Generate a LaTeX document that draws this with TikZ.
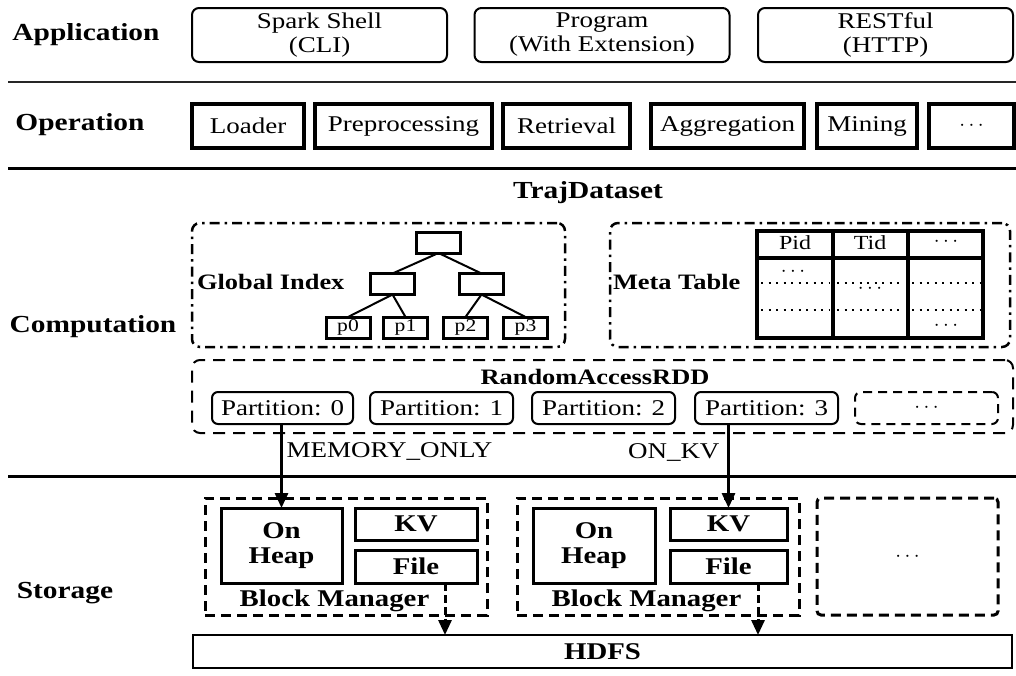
\documentclass[tikz,border=0pt]{standalone}
\usepackage{fontspec}
\setmainfont{Liberation Serif}[FakeStretch=1.2]
\usetikzlibrary{arrows.meta}
% text sizes
\newcommand\txtn{\fontsize{22.5}{24}\selectfont}
\newcommand\txtlayer{\fontsize{24.5}{26}\selectfont\bfseries}
\newcommand\txtbold{\fontsize{22}{24}\selectfont\bfseries}
\newcommand\txtstore{\fontsize{24}{25}\selectfont\bfseries}
\newcommand\txtcell{\fontsize{20}{22}\selectfont}
\newcommand\txtleaf{\fontsize{18}{20}\selectfont}
\newcommand\dotsym{$\cdots$}
\begin{document}
\begin{tikzpicture}[x=1pt,y=-1pt,
  every node/.style={inner sep=0pt, outer sep=0pt},
  layer/.style={font=\txtlayer},
  sepline/.style={line width=3pt},
  appbox/.style={draw, rounded corners=7pt, line width=2pt, minimum width=255pt,
    minimum height=54pt, align=center, font=\txtn},
  opbox/.style={draw, line width=3.5pt, minimum height=44pt, font=\txtn},
  dashdotbox/.style={draw, rounded corners=8pt, line width=2.5pt,
    dash pattern=on 10pt off 5pt on 2.5pt off 5pt, minimum width=#1, minimum height=124pt},
  treebox/.style={draw, line width=3pt, minimum width=44pt, minimum height=21pt, font=\txtleaf},
  treeedge/.style={line width=2pt},
  rddbox/.style={draw, rounded corners=8pt, line width=2pt, dash pattern=on 12pt off 8pt},
  partbox/.style={draw, rounded corners=6pt, line width=2pt, minimum height=32pt,
    minimum width=143pt, font=\txtn},
  bmbox/.style={draw, line width=3pt, dash pattern=on 10pt off 6pt,
    minimum width=282pt, minimum height=117pt},
  storebox/.style={draw, line width=3pt, font=\txtstore, align=center},
  flow/.style={line width=3pt, -{Triangle[length=15pt,width=13pt]}},
  dashflow/.style={line width=3pt, dash pattern=on 8pt off 4pt, -{Triangle[length=15pt,width=13pt]}},
  cellrule/.style={line width=1.5pt, dash pattern=on 2pt off 5.5pt}
]
\path[use as bounding box] (0,0) rectangle (1016,675);

% layer separators
\draw[line width=2pt, black!85] (8,82) -- (1016,82);
\draw[sepline] (8,168) -- (1016,168);
\draw[sepline] (8,476) -- (1016,476);

% layer names
\node[layer] (lApp) at (86,35) {Application};
\node[layer] (lOp) at (80,125) {Operation};
\node[layer] (lComp) at (93,327) {Computation};
\node[layer] (lSto) at (65,593) {Storage};

% application layer
\node[appbox] (spark) at (319.5,35) {Spark Shell\\(CLI)};
\node[appbox] (prog) at (602,35) {Program\\(With Extension)};
\node[appbox] (rest) at (885.5,35) {RESTful\\(HTTP)};

% operation layer
\node[opbox, minimum width=112pt] (load) at (248,126) {Loader};
\node[opbox, minimum width=177pt] (prep) at (403.5,126) {Preprocessing};
\node[opbox, minimum width=127pt] (retr) at (566.5,126) {Retrieval};
\node[opbox, minimum width=153pt] (aggr) at (727.5,126) {Aggregation};
\node[opbox, minimum width=100pt] (mine) at (867,126) {Mining};
\node[opbox, minimum width=85pt] (opmore) at (971.5,126) {\dotsym};

% computation layer
\node[font=\txtlayer] (traj) at (588,193) {TrajDataset};

\node[dashdotbox=373pt] (gi) at (378.5,285) {};
\node[font=\txtbold, anchor=west] (giLabel) at (197,282) {Global Index};
\node[treebox] (root) at (438.5,242.5) {};
\node[treebox] (midL) at (392.5,284) {};
\node[treebox] (midR) at (481.5,284) {};
\node[treebox] (p0) at (348,327.5) {p0};
\node[treebox] (p1) at (405.5,327.5) {p1};
\node[treebox] (p2) at (465.5,327.5) {p2};
\node[treebox] (p3) at (525.5,327.5) {p3};
\draw[treeedge] (root.south) -- (midL.north);
\draw[treeedge] (root.south) -- (midR.north);
\draw[treeedge] (midL.south) -- (p0.north);
\draw[treeedge] (midL.south) -- (p1.north);
\draw[treeedge] (midR.south) -- (p2.north);
\draw[treeedge] (midR.south) -- (p3.north);

\node[dashdotbox=400pt] (meta) at (810,285) {};
\node[font=\txtbold, anchor=west] (metaLabel) at (613,282) {Meta Table};
% meta table grid
\draw[line width=4pt] (757,231) rectangle (983,338);
\draw[line width=3.5pt] (757,258) -- (983,258);
\draw[line width=4pt] (833,231) -- (833,338);
\draw[line width=4pt] (908,231) -- (908,338);
\foreach \yy in {283,310} {
  \draw[cellrule] (761,\yy) -- (829,\yy);
  \draw[cellrule] (837,\yy) -- (904,\yy);
  \draw[cellrule] (912,\yy) -- (980,\yy);
}
\node[font=\txtcell] (hPid) at (795,243) {Pid};
\node[font=\txtcell] (hTid) at (870,243) {Tid};
\node[font=\txtcell] (hMore) at (946,242) {\dotsym};
\node[font=\txtcell] (c1) at (793,272) {\dotsym};
\node[font=\txtcell] (c2) at (870,289) {\dotsym};
\node[font=\txtcell] (c3) at (946,326) {\dotsym};

% random access rdd
\node[rddbox, minimum width=821pt, minimum height=73pt] (rdd) at (602.5,396.5) {};
\node[font=\txtbold] (rddLabel) at (595,377) {RandomAccessRDD};
\node[partbox, minimum width=141pt] (part0) at (282.5,408) {Partition: 0};
\node[partbox] (part1) at (441.5,408) {Partition: 1};
\node[partbox] (part2) at (603.5,408) {Partition: 2};
\node[partbox] (part3) at (766.5,408) {Partition: 3};
\node[partbox, dash pattern=on 9pt off 6pt] (partmore) at (926.5,408) {\dotsym};

% storage layer
\node[bmbox] (bm1) at (346,556.5) {};
\node[bmbox] (bm2) at (658,556.5) {};
\node[bmbox, minimum width=181pt, rounded corners=4pt] (bm3) at (907.5,556.5) {\txtn\dotsym};

\node[storebox, minimum width=121pt, minimum height=75pt] (heap1) at (281.5,545.5) {On\\Heap};
\node[storebox, minimum width=122pt, minimum height=32pt] (kv1) at (416,524) {KV};
\node[storebox, minimum width=122pt, minimum height=33pt] (file1) at (416,566.5) {File};
\node[font=\txtstore] (bmLabel1) at (334.5,601) {Block Manager};

\node[storebox, minimum width=122pt, minimum height=75pt] (heap2) at (594,545.5) {On\\Heap};
\node[storebox, minimum width=117pt, minimum height=32pt] (kv2) at (728.5,524) {KV};
\node[storebox, minimum width=117pt, minimum height=33pt] (file2) at (728.5,566.5) {File};
\node[font=\txtstore] (bmLabel2) at (646.5,601) {Block Manager};

\node[draw, line width=2.5pt, minimum width=819pt, minimum height=33pt, font=\txtstore] (hdfs) at (602.5,651.5) {HDFS};

% storage level arrows
\draw[flow] (part0.south -| heap1.north) -- (heap1.north)
  node[pos=0.33, anchor=west, xshift=5pt, font=\txtn] (memLabel) {MEMORY\_ONLY};
\draw[flow] (part3.south -| kv2.north) -- (kv2.north)
  node[pos=0.34, anchor=east, xshift=-9pt, font=\txtn] (kvLabel) {ON\_KV};
\draw[dashflow] ([xshift=29pt]file1.south) -- ([xshift=29pt]file1.south |- hdfs.north);
\draw[dashflow] ([xshift=29.5pt]file2.south) -- ([xshift=29.5pt]file2.south |- hdfs.north);
\end{tikzpicture}
\end{document}
